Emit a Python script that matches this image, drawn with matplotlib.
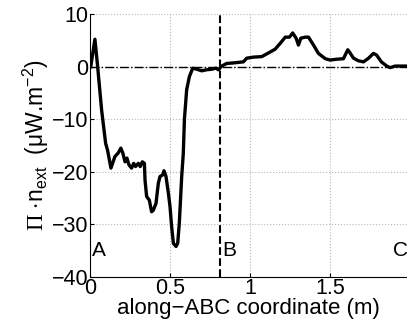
import matplotlib
matplotlib.use("Agg")
import matplotlib.pyplot as plt

plt.rcParams["font.family"] = ["Liberation Sans", "DejaVu Sans"]
plt.rcParams["mathtext.fontset"] = "custom"
plt.rcParams["mathtext.rm"] = "Liberation Sans"
plt.rcParams["mathtext.it"] = "Liberation Sans:italic"
plt.rcParams["mathtext.tt"] = "Liberation Serif"

# flux along the A-B-C path
coord = [0.005, 0.031, 0.048, 0.073, 0.098, 0.11, 0.131, 0.156, 0.177, 0.193,
         0.206, 0.219, 0.231, 0.244, 0.26, 0.273, 0.285, 0.302, 0.314, 0.327,
         0.34, 0.344, 0.354, 0.371, 0.385, 0.396, 0.4125, 0.427, 0.4375, 0.454,
         0.4625, 0.475, 0.49, 0.5, 0.51, 0.521, 0.5375, 0.548, 0.558, 0.573,
         0.583, 0.59, 0.604, 0.621, 0.642, 0.667, 0.698, 0.729, 0.76, 0.7875,
         0.802, 0.823, 0.854, 0.896, 0.958, 0.979, 1.02, 1.073, 1.115, 1.156,
         1.1875, 1.22, 1.246, 1.266, 1.2875, 1.302, 1.317, 1.344, 1.365, 1.396,
         1.427, 1.47, 1.5, 1.54, 1.583, 1.61, 1.62, 1.646, 1.677, 1.708,
         1.74, 1.77, 1.79, 1.82, 1.854, 1.875, 1.906, 1.98]
flux = [0.0, 5.2, 0.0, -8.3, -14.6, -15.9, -19.3, -17.1, -16.4, -15.5,
        -16.5, -18.1, -17.4, -18.7, -19.3, -18.4, -19.0, -18.4, -19.0, -18.1,
        -18.4, -21.6, -24.7, -25.4, -27.6, -27.3, -26.0, -22.2, -20.9, -20.6,
        -19.8, -20.9, -24.1, -26.6, -30.4, -33.6, -34.2, -33.6, -29.8, -20.9,
        -16.5, -10.0, -4.4, -1.9, -0.3, -0.5, -0.8, -0.6, -0.5, -0.3,
        -0.6, 0.1, 0.6, 0.7, 0.9, 1.6, 1.8, 1.9, 2.6, 3.3,
        4.4, 5.6, 5.6, 6.4, 5.4, 4.1, 5.4, 5.6, 5.6, 4.1,
        2.5, 1.5, 1.25, 1.4, 1.5, 3.2, 2.8, 1.6, 1.1, 0.9,
        1.6, 2.5, 2.2, 0.9, 0.1, -0.2, 0.1, 0.1]

point_x = [0.01, 0.825, 1.89]
point_names = ["A", "B", "C"]
b_coord = 0.81

fig = plt.figure(figsize=(4.07, 3.22), dpi=100)
ax = fig.add_axes([0.221, 0.1398, 0.779, 0.8167])

ax.plot(coord, flux, color="k", lw=2.4)
ax.axhline(0, color="k", lw=1.0, ls="-.")
ax.axvline(b_coord, color="k", lw=1.5, ls="--")

for px, name in zip(point_x, point_names):
    ax.text(px, -35, name, fontsize=15, va="center", ha="left")

ax.set_xlim(0, 1.98)
ax.set_ylim(-40, 10)
ax.set_xticks([0, 0.5, 1, 1.5])
ax.set_xticklabels(["0", "0.5", "1", "1.5"])
ax.set_yticks([-40, -30, -20, -10, 0, 10])
ax.grid(True, color="#b8b8b8", ls=":", lw=0.8)
ax.tick_params(direction="in", length=3, labelsize=15.5, pad=1)
ax.spines["top"].set_visible(False)
ax.spines["right"].set_visible(False)

ax.set_xlabel("along\u2212ABC coordinate (m)", fontsize=16, labelpad=-1)
ax.set_ylabel(r"$\mathtt{\Pi}$ $\cdot$n$_{\rm ext}$  (" + "\u03bc" + r"W.m$^{-2}$)",
              fontsize=16.5, labelpad=1)

fig.savefig("out.png", dpi=100)
